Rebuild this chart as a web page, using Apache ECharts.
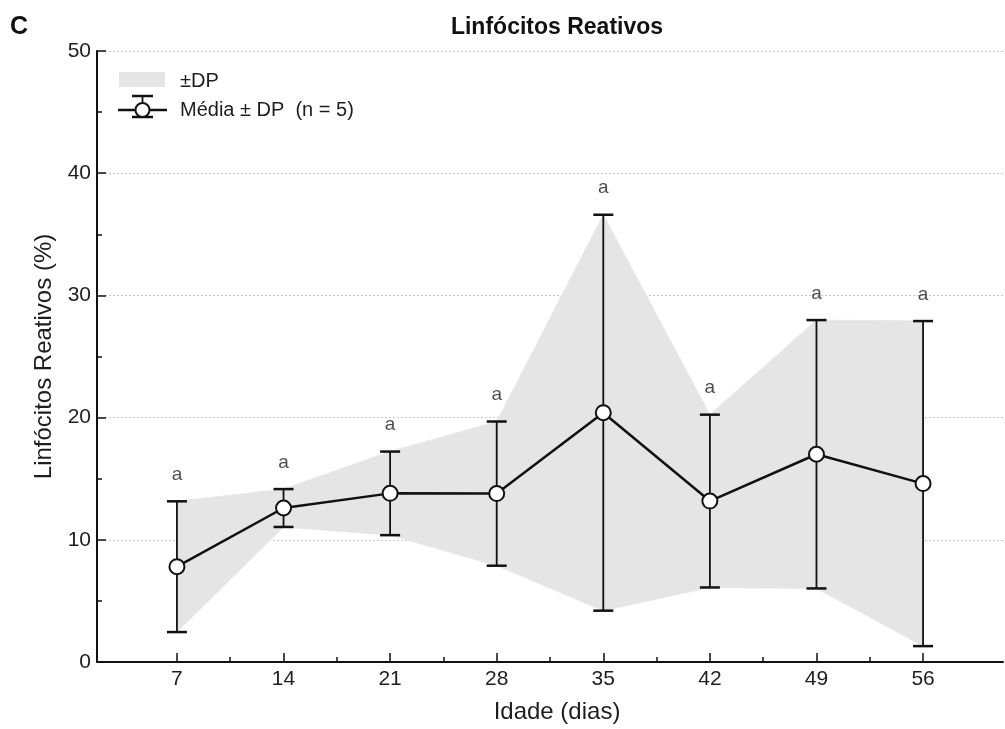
<!DOCTYPE html>
<html><head><meta charset="utf-8">
<script src="https://cdn.jsdelivr.net/npm/echarts@6/dist/echarts.min.js"></script>
<style>html,body{margin:0;padding:0;background:#fff;overflow:hidden}#c{width:1005px;height:729px}</style>
</head><body><div id="c"></div>
<script>
const days = [7, 14, 21, 28, 35, 42, 49, 56];
const means = [7.8, 12.6, 13.8, 13.78, 20.4, 13.17, 17.0, 14.6];
const sds = [5.35, 1.55, 3.42, 5.9, 16.2, 7.07, 10.98, 13.3];
const letters = ['a', 'a', 'a', 'a', 'a', 'a', 'a', 'a'];
const xMajorTicks = [7, 14, 21, 28, 35, 42, 49, 56];
const xMinorTicks = [10.5, 17.5, 24.5, 31.5, 38.5, 45.5, 52.5];

const lower = means.map((m, i) => m - sds[i]);
const upper = means.map((m, i) => m + sds[i]);

const FONT = "'Liberation Sans', Arial, sans-serif";
const INK = '#111111';
const TXT = '#1e1e1e';

const chart = echarts.init(document.getElementById('c'), null, {renderer: 'canvas'});

const option = {
  animation: false,
  backgroundColor: '#ffffff',
  grid: {left: 97, right: 2, top: 51, bottom: 61, containLabel: false},
  xAxis: [{
    type: 'value', min: 1.75, max: 61.25,
    name: 'Idade (dias)', nameLocation: 'middle', nameGap: 38,
    nameTextStyle: {fontFamily: FONT, fontSize: 24, color: TXT, padding: [0, 0, 0, 14]},
    axisLine: {show: true, lineStyle: {color: INK, width: 2}},
    axisTick: {show: true, inside: true, length: 9, lineStyle: {color: INK, width: 1.5}, customValues: xMajorTicks},
    axisLabel: {show: true, fontFamily: FONT, fontSize: 21, color: TXT, margin: 7, customValues: xMajorTicks},
    splitLine: {show: false}
  }, {
    type: 'value', min: 1.75, max: 61.25, position: 'bottom',
    axisLine: {show: false},
    axisTick: {show: true, inside: true, length: 5, lineStyle: {color: INK, width: 1.5}, customValues: xMinorTicks},
    axisLabel: {show: false, customValues: xMinorTicks},
    splitLine: {show: false}
  }],
  yAxis: {
    type: 'value', min: 0, max: 50, interval: 10,
    name: 'Linfócitos Reativos (%)', nameLocation: 'middle', nameGap: 39,
    nameTextStyle: {fontFamily: FONT, fontSize: 24, color: TXT},
    axisLine: {show: true, lineStyle: {color: INK, width: 2}},
    axisTick: {show: true, inside: true, length: 9, lineStyle: {color: INK, width: 1.5}},
    minorTick: {show: true, splitNumber: 2, length: 5, lineStyle: {color: INK, width: 1.5}},
    axisLabel: {fontFamily: FONT, fontSize: 21, color: TXT, margin: 6},
    splitLine: {show: true, lineStyle: {color: '#c8c8c8', width: 1, type: [2, 2]}}
  },
  series: [
    {
      type: 'custom', name: '±DP', z: 1, silent: true,
      data: days.map((d, i) => [d, lower[i], upper[i]]),
      encode: {x: 0, y: [1, 2]},
      renderItem: function (params, api) {
        if (params.dataIndex !== 0) return null;
        const pts = [];
        for (let i = 0; i < days.length; i++) pts.push(api.coord([days[i], upper[i]]));
        for (let i = days.length - 1; i >= 0; i--) pts.push(api.coord([days[i], lower[i]]));
        return {type: 'polygon', shape: {points: pts}, style: {fill: '#e5e5e5', stroke: '#e9e9e9', lineWidth: 1}};
      }
    },
    {
      type: 'custom', name: 'err', z: 3, silent: true,
      data: days.map((d, i) => [d, lower[i], upper[i]]),
      encode: {x: 0, y: [1, 2]},
      renderItem: function (params, api) {
        const x = api.value(0);
        const pLo = api.coord([x, api.value(1)]);
        const pHi = api.coord([x, api.value(2)]);
        const hw = 10;
        return {type: 'group', children: [
          {type: 'line', shape: {x1: pLo[0], y1: pLo[1], x2: pHi[0], y2: pHi[1]}, style: {stroke: INK, lineWidth: 1.8}},
          {type: 'line', shape: {x1: pHi[0] - hw, y1: pHi[1], x2: pHi[0] + hw, y2: pHi[1]}, style: {stroke: INK, lineWidth: 2.5}},
          {type: 'line', shape: {x1: pLo[0] - hw, y1: pLo[1], x2: pLo[0] + hw, y2: pLo[1]}, style: {stroke: INK, lineWidth: 2.5}}
        ]};
      }
    },
    {
      type: 'line', name: 'Média ± DP', z: 5,
      data: days.map((d, i) => [d, means[i]]),
      symbol: 'circle', symbolSize: 15, showSymbol: true,
      lineStyle: {color: INK, width: 2.5},
      itemStyle: {color: '#ffffff', borderColor: INK, borderWidth: 2},
      emphasis: {disabled: true}
    },
    {
      type: 'scatter', name: 'letters', z: 6, silent: true,
      data: days.map((d, i) => [d, upper[i]]),
      symbolSize: 0,
      label: {show: true, position: 'top', distance: 17, fontFamily: FONT, fontSize: 19, color: TXT,
        formatter: p => letters[p.dataIndex]}
    }
  ],
  graphic: [
    {type: 'text', x: 19, y: 27, style: {text: 'C', font: "bold 25px 'Liberation Sans', Arial, sans-serif", fill: '#111', textAlign: 'center', textVerticalAlign: 'middle'}},
    {type: 'text', x: 557, y: 28, style: {text: 'Linfócitos Reativos', font: "bold 23px 'Liberation Sans', Arial, sans-serif", fill: '#111', textAlign: 'center', textVerticalAlign: 'middle'}},
    {type: 'rect', shape: {x: 119, y: 72, width: 46, height: 15}, style: {fill: '#e5e5e5'}},
    {type: 'text', x: 180, y: 81, style: {text: '±DP', font: "20px 'Liberation Sans', Arial, sans-serif", fill: TXT, textVerticalAlign: 'middle'}},
    {type: 'line', shape: {x1: 118, y1: 110, x2: 167, y2: 110}, style: {stroke: INK, lineWidth: 2.5}},
    {type: 'line', shape: {x1: 132, y1: 96, x2: 153, y2: 96}, style: {stroke: INK, lineWidth: 2.5}},
    {type: 'line', shape: {x1: 132, y1: 117, x2: 153, y2: 117}, style: {stroke: INK, lineWidth: 2.5}},
    {type: 'line', shape: {x1: 142.5, y1: 96, x2: 142.5, y2: 117}, style: {stroke: INK, lineWidth: 1.8}},
    {type: 'circle', shape: {cx: 142.5, cy: 110, r: 7}, style: {fill: '#fff', stroke: INK, lineWidth: 2}},
    {type: 'text', x: 180, y: 110, style: {text: 'Média ± DP  (n = 5)', font: "20px 'Liberation Sans', Arial, sans-serif", fill: TXT, textVerticalAlign: 'middle'}}
  ]
};
chart.setOption(option);
</script>
</body></html>
